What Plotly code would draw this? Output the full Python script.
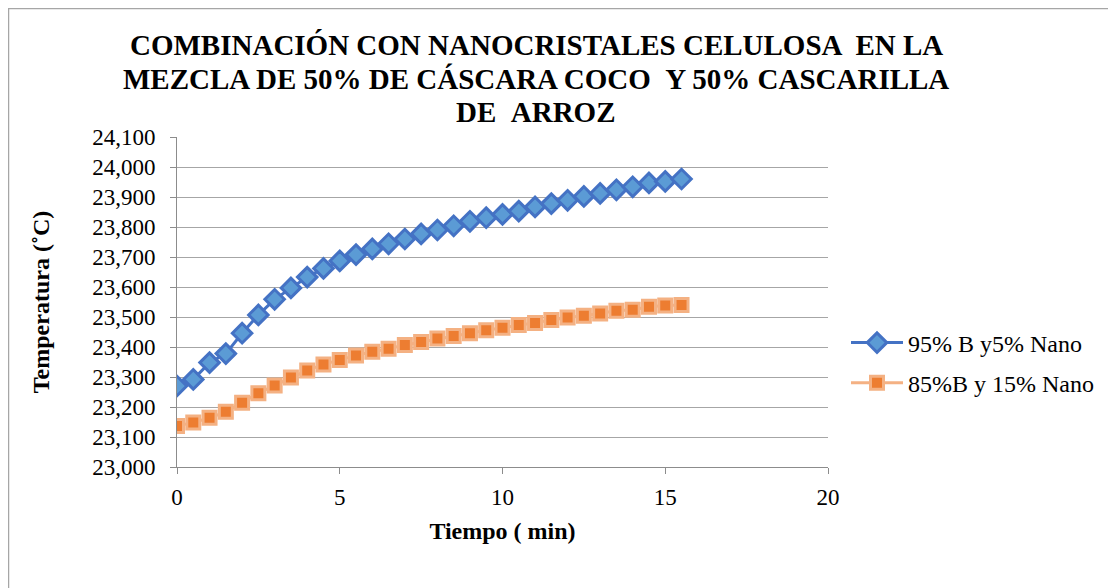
import plotly.graph_objects as go

tiempo = [0, 0.5, 1, 1.5, 2, 2.5, 3, 3.5, 4, 4.5, 5, 5.5, 6, 6.5, 7, 7.5,
          8, 8.5, 9, 9.5, 10, 10.5, 11, 11.5, 12, 12.5, 13, 13.5, 14, 14.5, 15, 15.5]

serie_95 = [23270, 23292, 23348, 23378, 23446, 23507, 23559, 23597, 23633, 23662,
            23687, 23708, 23727, 23744, 23760, 23777, 23790, 23804, 23819, 23831,
            23842, 23853, 23867, 23878, 23889, 23902, 23912, 23924, 23934, 23947,
            23952, 23960]

serie_85 = [23137, 23148, 23164, 23184, 23214, 23246, 23272, 23298, 23322, 23342,
            23357, 23372, 23384, 23394, 23407, 23417, 23428, 23437, 23446, 23456,
            23464, 23473, 23480, 23490, 23498, 23504, 23512, 23521, 23524, 23534,
            23538, 23540]

nombre_95 = "95% B y5% Nano"
nombre_85 = "85%B y 15% Nano"

titulo = ["COMBINACIÓN CON NANOCRISTALES CELULOSA \u00a0EN LA",
          "MEZCLA DE 50% DE CÁSCARA COCO \u00a0Y 50% CASCARILLA",
          "DE \u00a0ARROZ"]

FONT = "Liberation Serif"
OFF = 8  # page body margin
W, H = 1116, 588
L, R, T, B = 177 - OFF, 828 - OFF, 137 - OFF, 467 - OFF

fig = go.Figure()
fig.add_trace(go.Scatter(
    x=tiempo, y=serie_95, name=nombre_95, mode="lines+markers",
    line=dict(color="#4472c4", width=3),
    marker=dict(symbol="diamond", size=15, color="#5b9bd5",
                line=dict(color="#4472c4", width=3)),
    legendgroup="a",
))
fig.add_trace(go.Scatter(
    x=tiempo, y=serie_85, name=nombre_85, mode="lines+markers",
    line=dict(color="#f4b183", width=3),
    marker=dict(symbol="square", size=13, color="#ed7d31",
                line=dict(color="#f4b183", width=3)),
    legendgroup="b",
))

def px_x(p):
    return (p - OFF - L) / (R - L)

def px_y(p):
    return (B - (p - OFF)) / (B - T)

annotations = []
for line_text, yc in zip(titulo, [45, 79, 112]):
    annotations.append(dict(
        text="<b>" + line_text + "</b>", x=px_x(536), y=px_y(yc),
        xref="paper", yref="paper", xanchor="center", yanchor="middle",
        showarrow=False, font=dict(family=FONT, size=29, color="black"),
    ))

fig.update_layout(
    width=W, height=H,
    margin=dict(l=L, r=W - R, t=T, b=H - B, pad=0),
    paper_bgcolor="white", plot_bgcolor="white",
    font=dict(family=FONT, color="black", size=23),
    showlegend=True,
    legend=dict(x=px_x(846), y=px_y(363), xanchor="left", yanchor="middle",
                font=dict(family=FONT, size=24, color="black"),
                traceorder="grouped", tracegroupgap=6,
                bgcolor="rgba(0,0,0,0)", itemwidth=52),
    annotations=annotations,
    shapes=[dict(type="rect", xref="paper", yref="paper",
                 x0=px_x(8.5), x1=px_x(1130), y0=px_y(8.5), y1=px_y(620),
                 line=dict(color="#a6a6a6", width=1.5), fillcolor="rgba(0,0,0,0)",
                 layer="below")],
)

fig.update_xaxes(
    range=[0, 20], dtick=5, tick0=0,
    showgrid=False, zeroline=False,
    showline=True, linecolor="#8c8c8c", linewidth=1,
    ticks="outside", ticklen=6, tickcolor="#8c8c8c",
    tickfont=dict(family=FONT, size=23, color="black"),
    ticklabelstandoff=3,
    title=dict(text="<b>Tiempo ( min)</b>", font=dict(family=FONT, size=24, color="black"),
               standoff=13),
)
fig.update_yaxes(
    range=[23000, 24100], dtick=100, tick0=23000,
    tickformat=",d",
    showgrid=True, gridcolor="#a6a6a6", gridwidth=1,
    zeroline=False,
    showline=True, linecolor="#8c8c8c", linewidth=1,
    ticks="outside", ticklen=6, tickcolor="#8c8c8c",
    tickfont=dict(family=FONT, size=23, color="black"),
    ticklabelstandoff=10,
    title=dict(text="<b>Temperatura (˚C)</b>", font=dict(family=FONT, size=24, color="black"),
               standoff=35),
)

fig.write_html("out.html")
